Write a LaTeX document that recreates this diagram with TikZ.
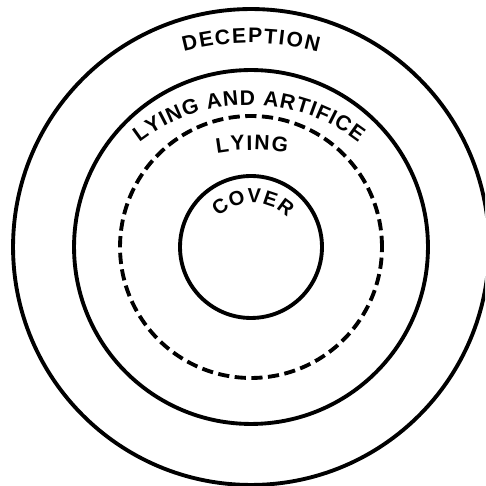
\documentclass[tikz,border=0pt]{standalone}
\usepackage{fontspec}
\setmainfont{Liberation Sans}
\usetikzlibrary{decorations.text}
\newcommand{\ringlabel}{\bfseries\fontsize{12}{14}\selectfont}

\begin{document}
\begin{tikzpicture}[x=0.02cm, y=0.02cm,
  ring/.style={circle, draw, line width=2.2pt, inner sep=0pt},
  dashring/.style={ring, dash pattern=on 6.4pt off 3.1pt},
  arctext/.style 2 args={font=\ringlabel, decorate,
    decoration={text effects along path, text align=center, text={#1},
      text effects/.cd, characters={text along path, inner xsep=#2, inner ysep=0pt},
      character widths={inner xsep=#2, inner ysep=0pt}}}]

  \useasboundingbox (0,0) rectangle (485,486);
  \clip (0,0) rectangle (485,486);

  % the rings
  \coordinate (c) at (251,239);
  \node[ring, minimum size=9.52cm] (deception) at (c) {};
  \node[ring, minimum size=7.08cm] (artifice) at (c) {};
  \node[dashring, minimum size=5.24cm] (lying) at (c) {};
  \node[ring, minimum size=2.84cm] (cover) at (c) {};

  % curved labels
  \coordinate (dec) at (251,184);
  \coordinate (art) at (249,202);
  \coordinate (lie) at (252,136);
  \coordinate (cov) at (253,235);
  \path[arctext={DECEPTION}{0.45pt}] ([shift={(125:259)}]dec) arc[start angle=125, end angle=55, radius=259];
  \path[arctext={LYING AND ARTIFICE}{0.28pt}] ([shift={(150:179)}]art) arc[start angle=150, end angle=30, radius=179];
  \path[arctext={LYING}{0.45pt}] ([shift={(120:200)}]lie) arc[start angle=120, end angle=60, radius=200];
  \path[arctext={COVER}{0.3pt}, font=\bfseries\fontsize{11.5}{13}\selectfont] ([shift={(170:48)}]cov) arc[start angle=170, end angle=10, radius=48];
\end{tikzpicture}
\end{document}
